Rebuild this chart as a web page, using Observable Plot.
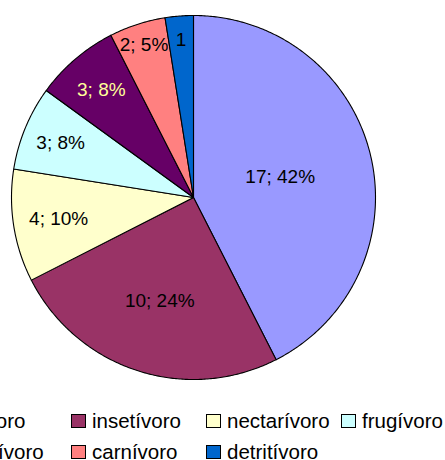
<!DOCTYPE html>
<html>
<head>
<meta charset="utf-8">
<script src="https://cdn.jsdelivr.net/npm/d3@7"></script>
<script src="https://cdn.jsdelivr.net/npm/@observablehq/plot@0.6"></script>
<style>
  html, body { margin: 0; padding: 0; background: #fff; overflow: hidden; width: 445px; height: 460px; }
  #wrap { position: relative; width: 445px; height: 460px; font-family: "Liberation Sans", Arial, sans-serif; }
  #chart { position: absolute; left: 0; top: 0; }
  #legend { position: absolute; left: -64px; top: 405px; display: grid; grid-template-columns: repeat(4, 135px); row-gap: 0; font-size: 20.5px; color: #000; white-space: nowrap; }
  .item { display: flex; align-items: center; height: 31px; }
  .sw { width: 13px; height: 12px; border: 1px solid #000; margin-right: 6px; flex: none; }
</style>
</head>
<body>
<div id="wrap">
  <div id="chart"></div>
  <div id="legend"></div>
</div>
<script>
// Data (clockwise from 12 o'clock)
const categories = ["onívoro", "insetívoro", "nectarívoro", "frugívoro", "granívoro", "carnívoro", "detritívoro"];
const values = [17, 10, 4, 3, 3, 2, 1];
const labels = ["17; 42%", "10; 24%", "4; 10%", "3; 8%", "3; 8%", "2; 5%", "1"];
const colors = ["#9999FF", "#993366", "#FFFFCC", "#CCFFFF", "#660066", "#FF8080", "#0066CC"];
const labelColors = ["#000", "#000", "#000", "#000", "#FFFF99", "#000", "#000"];
// label distance from centre as a fraction of the radius (Excel "best fit" placement)
const labelRadius = [0.49, 0.60, 0.75, 0.79, 0.78, 0.88, 0.87];
// legend order (rows of four)
const legendOrder = [0, 1, 2, 3, 4, 5, 6];

const total = d3.sum(values);
let acc = 0;
const slices = values.map((v, i) => {
  const a0 = acc / total * 2 * Math.PI;
  acc += v;
  const a1 = acc / total * 2 * Math.PI;
  return {i, a0, a1, mid: (a0 + a1) / 2};
});

const marks = [];
for (const s of slices) {
  const pts = [{x: 0, y: 0}];
  const n = Math.max(4, Math.ceil((s.a1 - s.a0) / (Math.PI / 360)));
  for (let k = 0; k <= n; k++) {
    const a = s.a0 + (s.a1 - s.a0) * k / n;
    pts.push({x: Math.sin(a), y: Math.cos(a)});
  }
  marks.push(Plot.line(pts, {x: "x", y: "y", curve: "linear-closed", fill: colors[s.i], stroke: "#000", strokeWidth: 1.1}));
}
const labelData = slices.map(s => ({
  x: labelRadius[s.i] * Math.sin(s.mid),
  y: labelRadius[s.i] * Math.cos(s.mid),
  text: labels[s.i],
  color: labelColors[s.i]
}));
marks.push(Plot.text(labelData, {x: "x", y: "y", text: "text", fill: "color", fontSize: 19, fontFamily: "Liberation Sans, Arial, sans-serif"}));

const plot = Plot.plot({
  width: 445,
  height: 400,
  x: {domain: [-1, 1], range: [11, 375], axis: null},
  y: {domain: [-1, 1], range: [379, 15], axis: null},
  style: {background: "#fff", overflow: "visible"},
  marks
});
document.getElementById("chart").appendChild(plot);

const legend = document.getElementById("legend");
for (const i of legendOrder) {
  const it = document.createElement("div");
  it.className = "item";
  const sw = document.createElement("span");
  sw.className = "sw";
  sw.style.background = colors[i];
  const tx = document.createElement("span");
  tx.textContent = categories[i];
  it.appendChild(sw);
  it.appendChild(tx);
  legend.appendChild(it);
}
</script>
</body>
</html>
